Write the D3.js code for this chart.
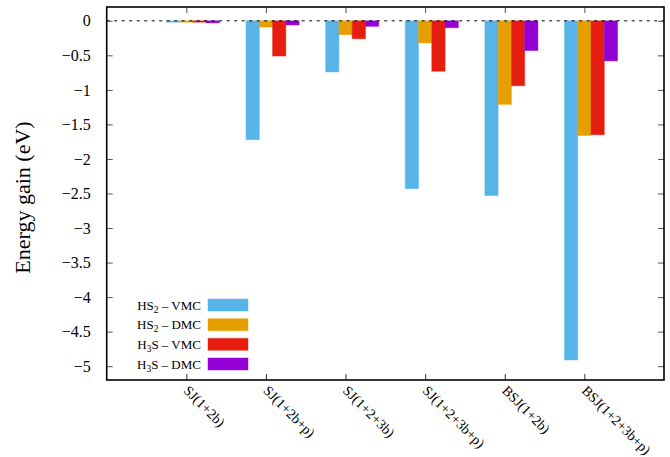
<!DOCTYPE html>
<html>
<head>
<meta charset="utf-8">
<script src="https://cdn.jsdelivr.net/npm/d3@7"></script>
<style>
  html, body { margin: 0; padding: 0; background: #fff; }
  svg { display: block; font-family: "Liberation Serif", "DejaVu Serif", serif; }
</style>
</head>
<body>
<svg id="chart" width="670" height="457"></svg>
<script>
// ---- data ----
const categories = ["SJ(1+2b)", "SJ(1+2b+p)", "SJ(1+2+3b)", "SJ(1+2+3b+p)", "BSJ(1+2b)", "BSJ(1+2+3b+p)"];
const hs2VMC = [-0.02, -1.72, -0.74, -2.43, -2.53, -4.91];
const hs2DMC = [-0.02, -0.09, -0.20, -0.32, -1.21, -1.66];
const h3sVMC = [-0.02, -0.51, -0.26, -0.73, -0.94, -1.65];
const h3sDMC = [-0.03, -0.06, -0.08, -0.10, -0.43, -0.58];
const seriesNames = [["HS", "2", " – VMC"], ["HS", "2", " – DMC"], ["H", "3", "S – VMC"], ["H", "3", "S – DMC"]];
const seriesColors = ["#56B4E9", "#E69F00", "#E51E10", "#9400D3"];
const yTicks = [0, -0.5, -1, -1.5, -2, -2.5, -3, -3.5, -4, -4.5, -5];
const yLabel = "Energy gain (eV)";

const series = [hs2VMC, hs2DMC, h3sVMC, h3sDMC];

// ---- layout ----
const L = 106.7, R = 664, T = 7, B = 380;
const svg = d3.select("#chart");
const x = d3.scaleLinear().domain([0, 7]).range([L, R]);
const y = d3.scaleLinear().domain([-5.2, 0.2]).range([B, T]);
const bw = 1 / 6;

// bars
series.forEach((vals, k) => {
  const off = k - 1;
  svg.append("g").selectAll("rect").data(vals).enter().append("rect")
    .attr("x", (d, i) => x(i + 1 + (off - 0.5) * bw))
    .attr("width", (d, i) => x(i + 1 + (off + 0.5) * bw) - x(i + 1 + (off - 0.5) * bw))
    .attr("y", d => y(Math.max(0, d)))
    .attr("height", d => Math.abs(y(d) - y(0)))
    .attr("fill", seriesColors[k])
    .attr("stroke", seriesColors[k])
    .attr("stroke-opacity", 0.45)
    .attr("stroke-width", 1);
});

// zero line
svg.append("line")
  .attr("x1", L).attr("x2", R).attr("y1", y(0)).attr("y2", y(0))
  .attr("stroke", "#000").attr("stroke-width", 1).attr("stroke-dasharray", "3,4.5");

// y axis (left) with labels
const yAxis = d3.axisLeft(y).tickValues(yTicks).tickSize(-6).tickPadding(16)
  .tickFormat(d => d === 0 ? "0" : d3.format("")(d).replace("-", "\u2212"));
const gy = svg.append("g").attr("transform", `translate(${L},0)`).call(yAxis);
gy.select(".domain").remove();
gy.selectAll(".tick line").attr("stroke", "#555");
gy.selectAll(".tick text").attr("font-size", 16).attr("fill", "#000")
  .attr("font-family", "Liberation Serif");

// y axis (right, mirrored ticks)
const gyr = svg.append("g").attr("transform", `translate(${R},0)`)
  .call(d3.axisRight(y).tickValues(yTicks).tickSize(-6).tickFormat(""));
gyr.select(".domain").remove();
gyr.selectAll(".tick line").attr("stroke", "#555");

// x axis bottom
const xTickVals = categories.map((c, i) => i + 1);
const gx = svg.append("g").attr("transform", `translate(0,${B})`)
  .call(d3.axisBottom(x).tickValues(xTickVals).tickSize(-6).tickFormat(""));
gx.select(".domain").remove();
gx.selectAll(".tick line").attr("stroke", "#333");

// x axis top (mirror)
const gxt = svg.append("g").attr("transform", `translate(0,${T})`)
  .call(d3.axisTop(x).tickValues(xTickVals).tickSize(-6).tickFormat(""));
gxt.select(".domain").remove();
gxt.selectAll(".tick line").attr("stroke", "#555");

// x tick labels rotated
svg.append("g").selectAll("text").data(categories).enter().append("text")
  .attr("transform", (d, i) => `translate(${x(i + 1) - 3.5},${B + 11.5}) rotate(45)`)
  .attr("font-size", 14)
  .attr("text-anchor", "start")
  .text(d => d);

// frame
svg.append("rect")
  .attr("x", L).attr("y", T).attr("width", R - L).attr("height", B - T)
  .attr("fill", "none").attr("stroke", "#000").attr("stroke-width", 1.6);

// y label
svg.append("text")
  .attr("transform", `translate(30,${(T + B) / 2 + 4}) rotate(-90)`)
  .attr("text-anchor", "middle")
  .attr("font-size", 22)
  .text(yLabel);

// legend
const lg = svg.append("g");
const rowY = [305, 324.7, 344.3, 364];
seriesNames.forEach((nm, k) => {
  const t = lg.append("text")
    .attr("x", 201).attr("y", rowY[k] + 4.5)
    .attr("text-anchor", "end").attr("font-size", 13);
  t.append("tspan").text(nm[0]);
  t.append("tspan").attr("font-size", 9.5).attr("dy", 3).text(nm[1]);
  t.append("tspan").attr("dy", -3).text(nm[2]);
  lg.append("rect")
    .attr("x", 208).attr("y", rowY[k] - 6).attr("width", 40).attr("height", 12)
    .attr("fill", seriesColors[k])
    .attr("stroke", seriesColors[k]).attr("stroke-opacity", 0.45).attr("stroke-width", 1);
});
</script>
</body>
</html>
